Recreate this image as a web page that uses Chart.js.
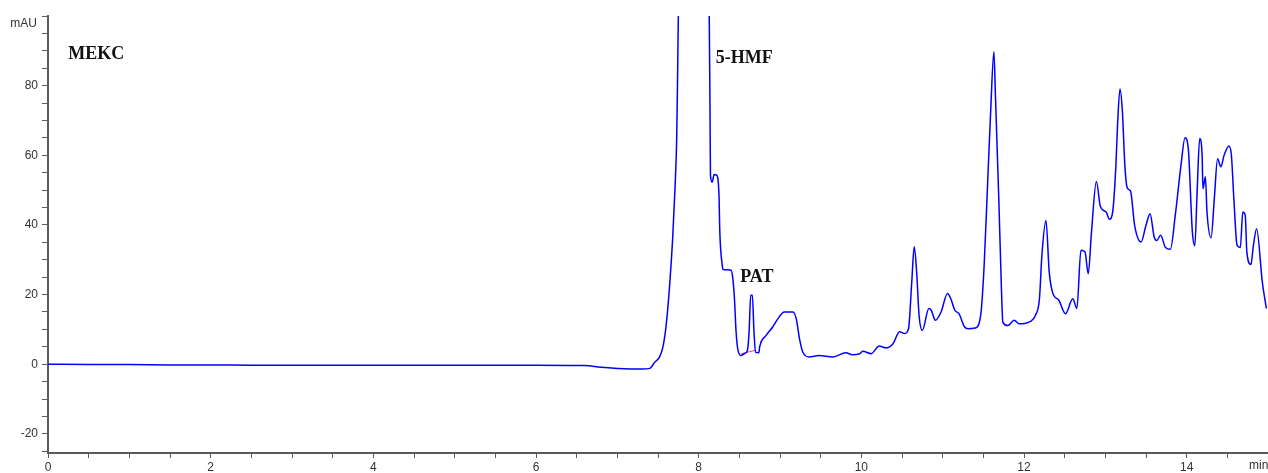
<!DOCTYPE html>
<html>
<head>
<meta charset="utf-8">
<script src="https://cdn.jsdelivr.net/npm/chart.js@4"></script>
<style>
  body { margin: 0; background: #fff; }
  #wrap { width: 1268px; height: 473px; }
</style>
</head>
<body>
<div id="wrap"><canvas id="chartMekc"></canvas></div>
<script>
// Tiempo de migración (min) y absorbancia (mAU)
const tiempos = [
  0, 0.5, 1, 1.5, 2, 2.5, 3, 3.5, 4, 4.5, 5, 5.5, 6, 6.6, 6.8, 7.0, 7.3, 7.40, 7.46, 7.52, 7.56, 7.60, 7.64, 7.68, 7.71, 7.73, 7.74, 7.75,
  7.80, 7.93, 8.06, 8.13, 8.14, 8.145, 8.166, 8.19, 8.22, 8.25, 8.26, 8.29, 8.30, 8.40, 8.42, 8.44, 8.46,
  8.48, 8.52, 8.56, 8.60, 8.62, 8.64, 8.66, 8.68, 8.70, 8.74, 8.75, 8.83, 8.91, 8.99, 9.05, 9.16, 9.20,
  9.24, 9.28, 9.36, 9.48, 9.65, 9.81, 9.89, 9.98, 10.02, 10.12, 10.22, 10.30, 10.39, 10.47, 10.53, 10.58,
  10.62, 10.65, 10.68, 10.71, 10.75, 10.83, 10.86, 10.91, 10.98, 11.06, 11.10, 11.15, 11.20, 11.27, 11.31,
  11.40, 11.47, 11.51, 11.55, 11.59, 11.63, 11.65, 11.69, 11.72, 11.74, 11.80, 11.88, 11.94, 12.08, 12.14,
  12.19, 12.22, 12.27, 12.31, 12.35, 12.43, 12.51, 12.60, 12.65, 12.70, 12.75, 12.79, 12.83, 12.89, 12.94,
  13.01, 13.05, 13.09, 13.13, 13.15, 13.18, 13.21, 13.24, 13.27, 13.31, 13.36, 13.44, 13.50, 13.55, 13.60,
  13.63, 13.68, 13.74, 13.80, 13.86, 13.93, 13.98, 14.02, 14.07, 14.10, 14.13, 14.16, 14.19, 14.20, 14.23, 14.25,
  14.30, 14.34, 14.38, 14.42, 14.46, 14.52, 14.55, 14.58, 14.62, 14.66, 14.69, 14.72, 14.74, 14.79, 14.82,
  14.86, 14.93, 14.98
];
const absorbancia = [
  0, -0.1, -0.1, -0.2, -0.2, -0.3, -0.3, -0.3, -0.3, -0.3, -0.3, -0.3, -0.3, -0.4, -0.9, -1.2, -1.4, -1.2, 0.6, 2.1, 4.9, 11.1, 21.7, 36, 51, 65, 81, 100,
  160, 210, 160, 100, 71.5, 54.3, 52.3, 54.5, 54.3, 48.5, 38, 28.4, 27.2, 27, 24.6, 18.8, 9.3,
  4.5, 2.5, 3, 4, 9.3, 19.8, 19.8, 9.3, 3.5, 3.3, 5, 8.3, 10.7, 13.6, 15, 15, 13,
  7.3, 3.5, 2.1, 2.5, 2.1, 3.3, 2.7, 3, 3.7, 3, 5.2, 4.7, 5.9, 9.3, 8.8, 10.2,
  23.6, 33.7, 26.5, 14, 9.7, 16, 15.5, 12.6, 15, 20.3, 18.8, 15.5, 14.5, 10.7, 10.2,
  10.4, 14.5, 28.4, 50.4, 72.5, 89.7, 76.3, 47.6, 23.6, 12.1, 11.1, 12.6, 11.6, 12.3, 14,
  18.8, 31.3, 41.3, 26.5, 20.7, 18.3, 14.5, 18.8, 16, 32.7, 32.2, 26, 38, 52.5, 45.2,
  43.7, 41.6, 43.7, 57.1, 68.6, 79, 72.5, 57.1, 50.6, 49.7, 39.9, 35.1, 39.9, 43.2, 36.6,
  35.5, 37, 33.5, 33, 42.8, 57.1, 65, 61.9, 38, 34, 50.4, 64.8, 60, 50.4, 53.8, 43.7,
  36.3, 47.6, 59, 56.7, 60, 62.7, 60, 47.6, 34.1, 33.5, 43.7, 42.8, 32.2, 28.6, 34,
  38.9, 23.6, 16
];

// Línea base de integración del pico PAT
const baseX = [8.52, 8.70];
const baseY = [3.0, 4.0];

// Etiquetas de picos: [texto, tiempo, mAU]
const etiquetas = [
  ['MEKC', 0.25, 89.0],
  ['5-HMF', 8.21, 87.8],
  ['PAT', 8.51, 24.9]
];

const xTicksMayores = [0, 2, 4, 6, 8, 10, 12, 14];
const yTicksMayores = [-20, 0, 20, 40, 60, 80];

const puntos = tiempos.map((t, i) => ({ x: t, y: absorbancia[i] }));
const puntosBase = baseX.map((t, i) => ({ x: t, y: baseY[i] }));

const colorEje = '#5a5a5a';
const colorTexto = '#333';
const fuenteEje = '"Liberation Sans", Arial, sans-serif';

// Textos extra: etiquetas de picos, unidades de ejes
const textosPlugin = {
  id: 'textos',
  afterDraw(chart) {
    const { ctx, scales } = chart;
    ctx.save();
    ctx.fillStyle = '#111';
    ctx.font = 'bold 18px "Liberation Serif", "Times New Roman", serif';
    ctx.textBaseline = 'middle';
    ctx.textAlign = 'left';
    etiquetas.forEach(([txt, t, v]) => {
      ctx.fillText(txt, scales.x.getPixelForValue(t), scales.y.getPixelForValue(v));
    });
    ctx.font = '12px ' + fuenteEje;
    ctx.fillStyle = colorTexto;
    ctx.textAlign = 'right';
    ctx.fillText('mAU', 37, scales.y.getPixelForValue(100) + 8);
    ctx.textAlign = 'left';
    ctx.textBaseline = 'top';
    ctx.fillText('min', 1249, scales.x.top + 7);
    ctx.restore();
  }
};

const ctx = document.getElementById('chartMekc').getContext('2d');
new Chart(ctx, {
  type: 'line',
  data: {
    datasets: [{
      data: puntos,
      borderColor: '#0000ff',
      borderWidth: 1.5,
      pointRadius: 0,
      cubicInterpolationMode: 'monotone'
    }, {
      data: puntosBase,
      borderColor: '#ff3377',
      borderWidth: 1,
      pointRadius: 0
    }]
  },
  options: {
    responsive: true,
    maintainAspectRatio: false,
    animation: false,
    layout: { padding: { top: 16, right: 0, left: 0, bottom: 0 } },
    plugins: {
      legend: { display: false },
      tooltip: { enabled: false }
    },
    scales: {
      x: {
        type: 'linear',
        min: 0,
        max: 15,
        afterFit: (s) => { s.height = 20; s.paddingRight = 0; s.paddingLeft = 0; },
        border: { color: colorEje, width: 2 },
        grid: { drawOnChartArea: false, color: colorEje, tickLength: 5 },
        ticks: {
          stepSize: 0.5,
          autoSkip: false,
          maxRotation: 0,
          padding: 2,
          color: colorTexto,
          font: { size: 12, family: fuenteEje },
          callback: (v) => xTicksMayores.includes(v) ? String(v) : ''
        }
      },
      y: {
        min: -25.5,
        max: 100,
        afterFit: (s) => { s.width = 48; },
        border: { color: colorEje, width: 2 },
        grid: { drawOnChartArea: false, color: colorEje, tickLength: 6 },
        ticks: {
          stepSize: 5,
          includeBounds: false,
          autoSkip: false,
          padding: 4,
          color: colorTexto,
          font: { size: 12, family: fuenteEje },
          callback: (v) => yTicksMayores.includes(v) ? String(v) : ''
        }
      }
    }
  },
  plugins: [textosPlugin]
});
</script>
</body>
</html>
